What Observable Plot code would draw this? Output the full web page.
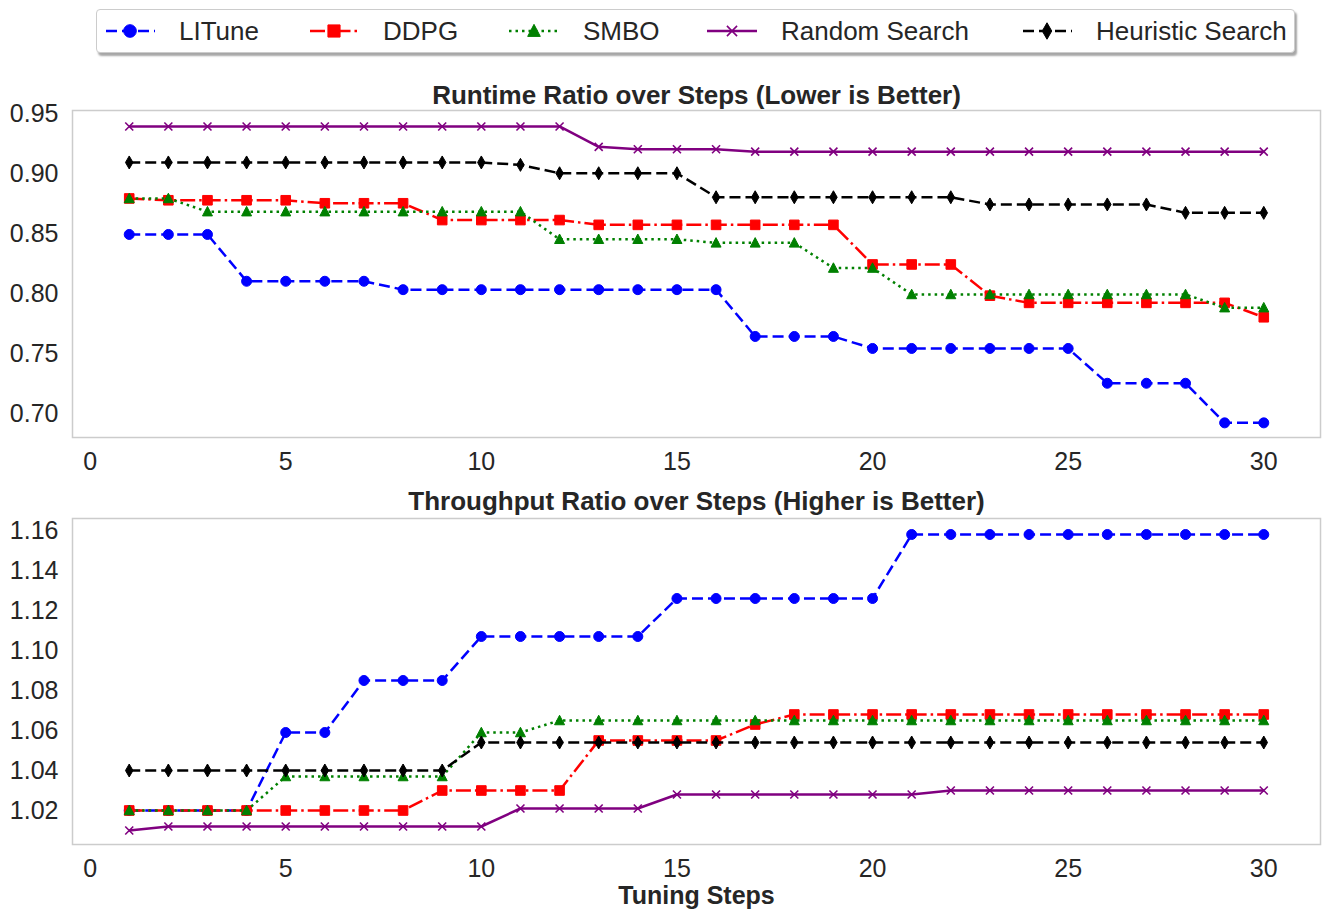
<!DOCTYPE html>
<html>
<head>
<meta charset="utf-8">
<script src="https://cdn.jsdelivr.net/npm/d3@7"></script>
<script src="https://cdn.jsdelivr.net/npm/@observablehq/plot@0.6"></script>
<style>
  html, body { margin: 0; padding: 0; background: white; }
  #root { position: relative; width: 1329px; height: 920px; font-family: "Liberation Sans", Arial, sans-serif; color: #262626; }
  #legend { position: absolute; left: 96px; top: 9px; width: 1199px; height: 44px; border: 1px solid #cccccc; border-radius: 4px;
            box-shadow: 2px 3px 2px rgba(0,0,0,0.35); background: white; box-sizing: border-box; white-space: nowrap; }
  .item { position: absolute; top: 0; height: 42px; display: flex; align-items: center; }
  .item svg { margin-right: 24px; flex-shrink: 0; }
  .item span { font-size: 26px; white-space: nowrap; }
  .chart { position: absolute; left: 0; }
</style>
</head>
<body>
<div id="root">
  <div id="legend"></div>
  <div id="top" class="chart" style="top:60px"></div>
  <div id="bottom" class="chart" style="top:470px"></div>
</div>
<script>
// ---------------- DATA ----------------
const steps = [1,2,3,4,5,6,7,8,9,10,11,12,13,14,15,16,17,18,19,20,21,22,23,24,25,26,27,28,29,30];
const seriesNames = ["LITune", "DDPG", "SMBO", "Random Search", "Heuristic Search"];

// Runtime ratio (lower is better)
const runtimeLITune    = [0.850,0.850,0.850,0.811,0.811,0.811,0.811,0.804,0.804,0.804,0.804,0.804,0.804,0.804,0.804,0.804,0.765,0.765,0.765,0.755,0.755,0.755,0.755,0.755,0.755,0.726,0.726,0.726,0.693,0.693];
const runtimeDDPG      = [0.880,0.8785,0.8785,0.8785,0.8785,0.876,0.876,0.876,0.862,0.862,0.862,0.862,0.858,0.858,0.858,0.858,0.858,0.858,0.858,0.825,0.825,0.825,0.799,0.793,0.793,0.793,0.793,0.793,0.793,0.781];
const runtimeSMBO      = [0.880,0.880,0.869,0.869,0.869,0.869,0.869,0.869,0.869,0.869,0.869,0.846,0.846,0.846,0.846,0.843,0.843,0.843,0.822,0.822,0.800,0.800,0.800,0.800,0.800,0.800,0.800,0.800,0.789,0.789];
const runtimeRandom    = [0.940,0.940,0.940,0.940,0.940,0.940,0.940,0.940,0.940,0.940,0.940,0.940,0.923,0.921,0.921,0.921,0.919,0.919,0.919,0.919,0.919,0.919,0.919,0.919,0.919,0.919,0.919,0.919,0.919,0.919];
const runtimeHeuristic = [0.910,0.910,0.910,0.910,0.910,0.910,0.910,0.910,0.910,0.910,0.908,0.901,0.901,0.901,0.901,0.881,0.881,0.881,0.881,0.881,0.881,0.881,0.875,0.875,0.875,0.875,0.875,0.868,0.868,0.868];

// Throughput ratio (higher is better)
const throughputLITune    = [1.020,1.020,1.020,1.020,1.059,1.059,1.085,1.085,1.085,1.107,1.107,1.107,1.107,1.107,1.126,1.126,1.126,1.126,1.126,1.126,1.158,1.158,1.158,1.158,1.158,1.158,1.158,1.158,1.158,1.158];
const throughputDDPG      = [1.020,1.020,1.020,1.020,1.020,1.020,1.020,1.020,1.030,1.030,1.030,1.030,1.055,1.055,1.055,1.055,1.063,1.068,1.068,1.068,1.068,1.068,1.068,1.068,1.068,1.068,1.068,1.068,1.068,1.068];
const throughputSMBO      = [1.020,1.020,1.020,1.020,1.037,1.037,1.037,1.037,1.037,1.059,1.059,1.065,1.065,1.065,1.065,1.065,1.065,1.065,1.065,1.065,1.065,1.065,1.065,1.065,1.065,1.065,1.065,1.065,1.065,1.065];
const throughputRandom    = [1.010,1.012,1.012,1.012,1.012,1.012,1.012,1.012,1.012,1.012,1.021,1.021,1.021,1.021,1.028,1.028,1.028,1.028,1.028,1.028,1.028,1.030,1.030,1.030,1.030,1.030,1.030,1.030,1.030,1.030];
const throughputHeuristic = [1.040,1.040,1.040,1.040,1.040,1.040,1.040,1.040,1.040,1.054,1.054,1.054,1.054,1.054,1.054,1.054,1.054,1.054,1.054,1.054,1.054,1.054,1.054,1.054,1.054,1.054,1.054,1.054,1.054,1.054];

const xTicks = [0, 5, 10, 15, 20, 25, 30];
const runtimeTicks = [0.70, 0.75, 0.80, 0.85, 0.90, 0.95];
const throughputTicks = [1.02, 1.04, 1.06, 1.08, 1.10, 1.12, 1.14, 1.16];

const runtimeTitle = "Runtime Ratio over Steps (Lower is Better)";
const throughputTitle = "Throughput Ratio over Steps (Higher is Better)";
const xLabel = "Tuning Steps";

// ---------------- STYLE ----------------
const FONT = '"Liberation Sans", Arial, sans-serif';
const sym = {
  square:   { draw(c, s) { const r = Math.sqrt(s / Math.PI); c.rect(-r, -r, 2 * r, 2 * r); } },
  triangle: { draw(c, s) { const r = Math.sqrt(s / Math.PI); c.moveTo(0, -r * 1.05); c.lineTo(r, r * 0.85); c.lineTo(-r, r * 0.85); c.closePath(); } },
  diamond:  { draw(c, s) { const r = Math.sqrt(s / Math.PI); c.moveTo(0, -r * 1.3); c.lineTo(r * 0.75, 0); c.lineTo(0, r * 1.3); c.lineTo(-r * 0.75, 0); c.closePath(); } },
  times:    { draw(c, s) { const r = Math.sqrt(s / Math.PI); c.moveTo(-r, -r); c.lineTo(r, r); c.moveTo(r, -r); c.lineTo(-r, r); } }
};
const styles = {
  "LITune":           { color: "blue",   dash: "11,5",       symbol: "circle",     r: 5,   filled: true,  legendLeft: 8 },
  "DDPG":             { color: "red",    dash: "15,4,2.5,4", symbol: sym.square,   r: 4.8, filled: true,  legendLeft: 212 },
  "SMBO":             { color: "green",  dash: "2.5,4",      symbol: sym.triangle, r: 5,   filled: true,  legendLeft: 412 },
  "Random Search":    { color: "purple", dash: null,         symbol: sym.times,    r: 4,   filled: false, legendLeft: 610 },
  "Heuristic Search": { color: "black",  dash: "11,5",       symbol: sym.diamond,  r: 5,   filled: true,  legendLeft: 925 }
};

function tidy(arrays) {
  const rows = [];
  seriesNames.forEach((name, k) => {
    arrays[k].forEach((v, i) => rows.push({ step: steps[i], value: v, series: name }));
  });
  return rows;
}

function seriesMarks(rows) {
  const marks = [];
  for (const name of seriesNames) {
    const st = styles[name];
    const d = rows.filter(r => r.series === name);
    marks.push(Plot.line(d, { x: "step", y: "value", stroke: st.color, strokeWidth: 2.5,
      strokeDasharray: st.dash || undefined, strokeLinecap: "butt", strokeLinejoin: "round" }));
    marks.push(Plot.dot(d, { x: "step", y: "value", symbol: st.symbol, r: st.r,
      fill: st.filled ? st.color : "none", stroke: st.color, strokeWidth: st.filled ? 1 : 1.6 }));
  }
  return marks;
}

function chart(rows, yDomain, yTicks, title, titleDy, height, marginTop, marginBottom, extra) {
  return Plot.plot({
    width: 1329, height, marginLeft: 72, marginRight: 9, marginTop, marginBottom,
    style: { fontFamily: FONT, fontSize: "25px", color: "#262626", background: "white", overflow: "visible" },
    x: { domain: [-0.45, 31.45], ticks: xTicks, tickSize: 0, tickPadding: 15, label: null },
    y: { domain: yDomain, ticks: yTicks, tickFormat: d3.format(".2f"), tickSize: 0, tickPadding: 14, label: null },
    marks: [
      Plot.frame({ stroke: "#cccccc", strokeWidth: 1.5 }),
      ...seriesMarks(rows),
      Plot.text([title], { text: d => d, frameAnchor: "top", lineAnchor: "middle", dy: titleDy, fontWeight: "bold", fontSize: 26, fill: "#262626" }),
      ...(extra || [])
    ]
  });
}

const topRows = tidy([runtimeLITune, runtimeDDPG, runtimeSMBO, runtimeRandom, runtimeHeuristic]);
const botRows = tidy([throughputLITune, throughputDDPG, throughputSMBO, throughputRandom, throughputHeuristic]);

document.getElementById("top").appendChild(
  chart(topRows, [0.6808, 0.9533], runtimeTicks, runtimeTitle, -15, 410, 50, 33));
document.getElementById("bottom").appendChild(
  chart(botRows, [1.003, 1.166], throughputTicks, throughputTitle, -17, 450, 48, 76,
    [Plot.text([xLabel], { text: d => d, frameAnchor: "bottom", lineAnchor: "middle", dy: 51, fontWeight: "bold", fontSize: 25, fill: "#262626" })]));

// ---------------- LEGEND ----------------
const NS = "http://www.w3.org/2000/svg";
const legend = document.getElementById("legend");
for (const name of seriesNames) {
  const st = styles[name];
  const item = document.createElement("div");
  item.className = "item";
  item.style.left = st.legendLeft + "px";
  const svg = document.createElementNS(NS, "svg");
  svg.setAttribute("width", 50); svg.setAttribute("height", 24);
  const line = document.createElementNS(NS, "line");
  line.setAttribute("x1", 0); line.setAttribute("x2", 50); line.setAttribute("y1", 12); line.setAttribute("y2", 12);
  line.setAttribute("stroke", st.color); line.setAttribute("stroke-width", 2.5);
  if (st.dash) line.setAttribute("stroke-dasharray", st.dash);
  line.setAttribute("stroke-dashoffset", name === "SMBO" ? 0 : -1);
  svg.appendChild(line);
  const path = document.createElementNS(NS, "path");
  const symType = typeof st.symbol === "string" ? d3.symbolCircle : st.symbol;
  path.setAttribute("d", d3.symbol(symType, st.r * st.r * Math.PI * 1.6)());
  path.setAttribute("transform", "translate(25,12)");
  path.setAttribute("fill", st.filled ? st.color : "none");
  path.setAttribute("stroke", st.color);
  path.setAttribute("stroke-width", st.filled ? 1 : 1.6);
  svg.appendChild(path);
  const span = document.createElement("span");
  span.textContent = name;
  item.appendChild(svg); item.appendChild(span);
  legend.appendChild(item);
}
</script>
</body>
</html>
